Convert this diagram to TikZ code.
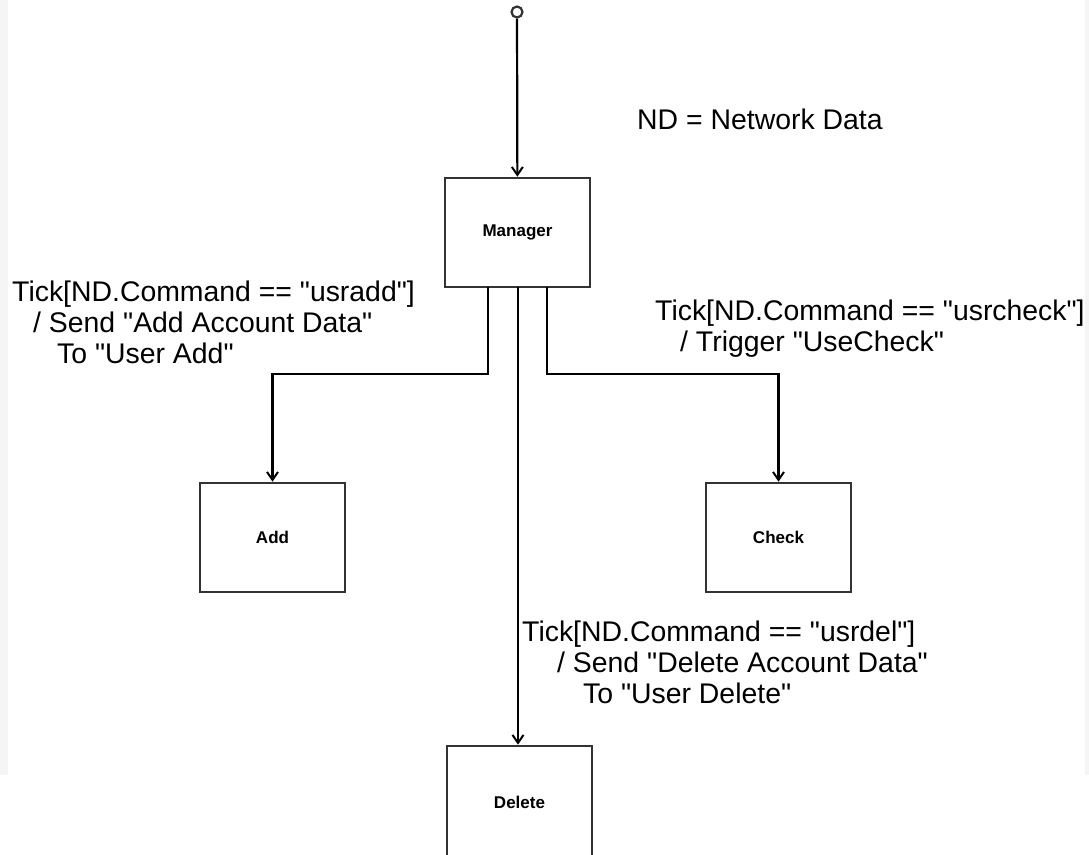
\documentclass[tikz,border=0pt]{standalone}
\usepackage{fontspec}
\setmainfont{Liberation Sans}[Ligatures=TeXOff]
\usetikzlibrary{arrows.meta}
\tikzset{
  statebox/.style={draw=black!80, line width=2.6pt, fill=white, minimum width=145pt, minimum height=109pt, inner sep=0pt, font=\bfseries\fontsize{17}{19}\selectfont},
  conn/.style={line width=2.2pt, -{Straight Barb[length=8pt,width=11pt,line width=2pt]}},
  lbl/.style={align=left, anchor=north west, inner sep=0pt, font=\fontsize{28.4}{31}\selectfont},
}
\begin{document}
\begin{tikzpicture}[x=1pt,y=-1pt]
\useasboundingbox (0,0) rectangle (1089,854);
\fill[black!4] (0,0) rectangle (8,775);
\fill[black!4] (1085,0) rectangle (1089,775);
\begin{scope}
\clip (0,0) rectangle (1089,854);
\node[statebox] (manager) at (517.5,232.5) {Manager};
\node[statebox] (add) at (272.5,537.5) {Add};
\node[statebox] (check) at (778.5,537.5) {Check};
\node[statebox, minimum height=112pt] (delete) at (519.5,802) {Delete};
\end{scope}
\node[draw=black!80, line width=2.2pt, circle, minimum size=11pt, inner sep=0pt] (start) at (517,12) {};
\coordinate (m1) at (488,287);
\coordinate (m2) at (518,287);
\coordinate (m3) at (547,287);
\draw[conn] (start) -- (manager);
\draw[conn] (m1) -- (488,374) -| (add.north);
\draw[conn] (m3) -- (547,374) -| (check.north);
\draw[conn] (m2) -- (m2 |- delete.north);
\node[lbl] (ndlabel) at (637,109) {ND = Network Data};
\node[lbl] (addlabel) at (12,281) {Tick[ND.Command == "usradd"]\\\hspace*{21pt}/ Send "Add Account Data"\\\hspace*{45pt}To "User Add"};
\node[lbl] (checklabel) at (655,300) {Tick[ND.Command == "usrcheck"]\\\hspace*{25pt}/ Trigger "UseCheck"};
\node[lbl] (dellabel) at (522,621) {Tick[ND.Command == "usrdel"]\\\hspace*{35pt}/ Send "Delete Account Data"\\\hspace*{61pt}To "User Delete"};
\end{tikzpicture}
\end{document}
